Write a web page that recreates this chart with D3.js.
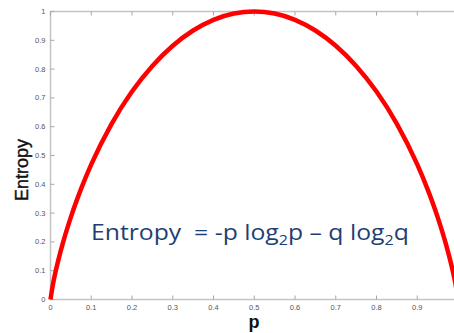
<!DOCTYPE html>
<html>
<head>
<meta charset="utf-8">
<script src="https://cdn.jsdelivr.net/npm/d3@7"></script>
<style>
  body { margin: 0; background: #fff; }
  svg { display: block; }
</style>
</head>
<body>
<div id="chart"></div>
<script>
"use strict";

// values (symmetric around p = 0.5)
var pValues = [0, 0.005, 0.01, 0.02, 0.03, 0.05, 0.075, 0.1, 0.15, 0.2, 0.25, 0.3, 0.35, 0.4, 0.45, 0.5,
	0.55, 0.6, 0.65, 0.7, 0.75, 0.8, 0.85, 0.9, 0.925, 0.95, 0.97, 0.98, 0.99, 0.995, 1];
var entropyValues = [0, 0.045, 0.081, 0.141, 0.194, 0.286, 0.384, 0.469, 0.61, 0.722, 0.811, 0.881, 0.934, 0.971, 0.993, 1,
	0.993, 0.971, 0.934, 0.881, 0.811, 0.722, 0.61, 0.469, 0.384, 0.286, 0.194, 0.141, 0.081, 0.045, 0];

var xTicks = [0, 0.1, 0.2, 0.3, 0.4, 0.5, 0.6, 0.7, 0.8, 0.9, 1];
var yTicks = [0, 0.1, 0.2, 0.3, 0.4, 0.5, 0.6, 0.7, 0.8, 0.9, 1];

var xLabel = "p",
	yLabel = "Entropy";

// formula pieces: text, subscript?
var formulaParts = [
	["Entropy\u00a0\u00a0= -p log", false],
	["2", true],
	["p \u2013 q log", false],
	["2", true],
	["q", false]
];

var width = 454, height = 333;

var svg = d3.select("#chart")
	.append("svg")
	.attr("width", width)
	.attr("height", height);

// the right edge of the axes box sits just past the window
var x = d3.scaleLinear().domain([0, 1]).range([50.5, 458]);
var y = d3.scaleLinear().domain([0, 1]).range([299.5, 11.5]);

var axisColor = "#c4c4c4",
	tickColor = "#555";

// box
svg.append("rect")
	.attr("x", x(0)).attr("y", y(1))
	.attr("width", x(1) - x(0)).attr("height", y(0) - y(1))
	.attr("fill", "none")
	.attr("stroke", axisColor)
	.attr("stroke-width", 1.5);

// inward ticks, matlab style
var tickLen = 4;
var g = svg.append("g").attr("stroke", "#a8a8a8").attr("stroke-width", 1);
xTicks.forEach(function (t) {
	g.append("line").attr("x1", x(t)).attr("x2", x(t)).attr("y1", y(0)).attr("y2", y(0) - tickLen);
	g.append("line").attr("x1", x(t)).attr("x2", x(t)).attr("y1", y(1)).attr("y2", y(1) + tickLen);
});
yTicks.forEach(function (t) {
	g.append("line").attr("x1", x(0)).attr("x2", x(0) + tickLen).attr("y1", y(t)).attr("y2", y(t));
	g.append("line").attr("x1", x(1)).attr("x2", x(1) - tickLen).attr("y1", y(t)).attr("y2", y(t));
});

var fmt = function (d) { return d === 0 ? "0" : d === 1 ? "1" : d3.format(".1f")(d); };

svg.append("g").selectAll("text")
	.data(yTicks)
	.enter().append("text")
	.attr("x", x(0) - 5)
	.attr("y", function (d) { return y(d) + 2.5; })
	.attr("text-anchor", "end")
	.attr("font-family", "Liberation Sans, Arial, sans-serif")
	.attr("font-size", 7.5)
	.attr("fill", tickColor)
	.text(fmt);

svg.append("g").selectAll("text")
	.data(xTicks.filter(function (d) { return d < 1; }))
	.enter().append("text")
	.attr("x", function (d) { return x(d); })
	.attr("y", y(0) + 10.5)
	.attr("text-anchor", "middle")
	.attr("font-family", "Liberation Sans, Arial, sans-serif")
	.attr("font-size", 7.5)
	.attr("fill", tickColor)
	.text(fmt);

// curve
var pts = pValues.map(function (p, i) { return [p, entropyValues[i]]; });
var line = d3.line()
	.x(function (d) { return x(d[0]); })
	.y(function (d) { return y(d[1]); })
	.curve(d3.curveMonotoneX);

svg.append("path")
	.datum(pts)
	.attr("d", line)
	.attr("fill", "none")
	.attr("stroke", "#ff0000")
	.attr("stroke-width", 4.5)
	.attr("stroke-linejoin", "round");

// axis labels
svg.append("text")
	.attr("x", 254)
	.attr("y", 328)
	.attr("text-anchor", "middle")
	.attr("font-family", "Liberation Sans, Arial, sans-serif")
	.attr("font-weight", "bold")
	.attr("font-size", 18)
	.attr("fill", "#111")
	.text(xLabel);

svg.append("text")
	.attr("transform", "translate(28,170) rotate(-90)")
	.attr("text-anchor", "middle")
	.attr("font-family", "Liberation Sans, Arial, sans-serif")
	.attr("font-size", 18)
	.attr("fill", "#111")
	.attr("stroke", "#111")
	.attr("stroke-width", 0.4)
	.text(yLabel);

// formula - the original text is a bit stretched sideways, so scale it to fit
var fg = svg.append("g");
var f = fg.append("text")
	.attr("x", 0)
	.attr("y", 0)
	.attr("font-family", "Open Sans, Lato, sans-serif")
	.attr("font-size", 21.5)
	.attr("fill", "#1f3f73");
var prevSub = false;
formulaParts.forEach(function (d) {
	var dy = d[1] === prevSub ? 0 : (d[1] ? 5 : -5);
	f.append("tspan")
		.attr("dy", dy)
		.attr("font-size", d[1] ? 14 : null)
		.text(d[0]);
	prevSub = d[1];
});
var bb = f.node().getBBox();
var sx = (409 - 91) / bb.width;
fg.attr("transform", "translate(" + (91 - bb.x * sx) + ",240) scale(" + sx + ",1)");
</script>
</body>
</html>
